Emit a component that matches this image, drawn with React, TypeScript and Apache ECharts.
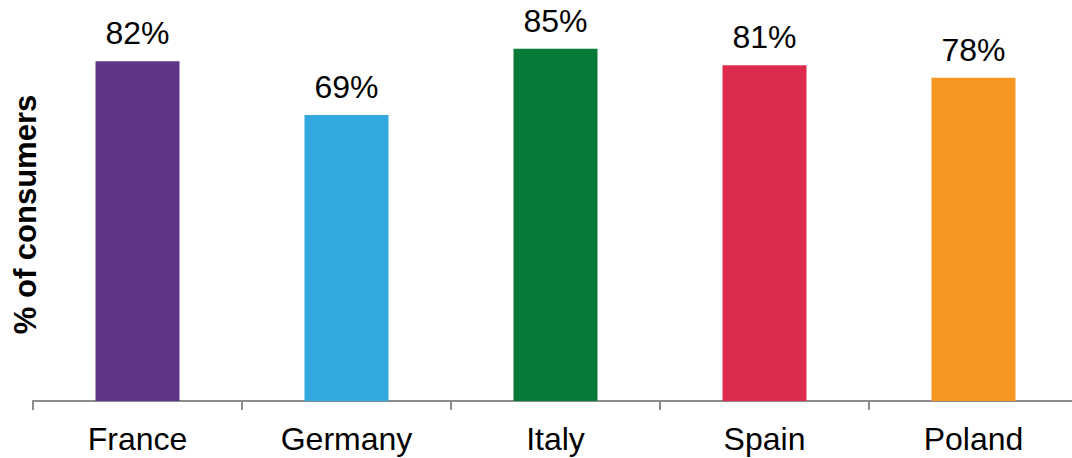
import React, { useEffect, useRef } from "react";
import * as echarts from "echarts";

const countries = ["France", "Germany", "Italy", "Spain", "Poland"];
const shares = [82, 69, 85, 81, 78];
const barColors = ["#5f3589", "#33a8de", "#067a38", "#dd2b4e", "#f79621"];

const font = "Liberation Sans, Arial, sans-serif";

export default function App() {
  const ref = useRef<HTMLDivElement>(null);

  useEffect(() => {
    if (!ref.current) return;
    const chart = echarts.init(ref.current, null, { renderer: "svg" });
    chart.setOption({
      animation: false,
      grid: {
        left: 33,
        right: -6,
        top: 28,
        bottom: 57,
        containLabel: false,
        outerBoundsMode: "none",
      },
      xAxis: {
        type: "category",
        data: countries,
        axisLine: { lineStyle: { color: "#8c8c8c", width: 2 } },
        axisTick: { show: true, length: 9, lineStyle: { color: "#8c8c8c", width: 2 } },
        axisLabel: {
          color: "#000",
          fontFamily: font,
          fontSize: 32,
          margin: 22,
        },
      },
      yAxis: {
        type: "value",
        min: 0,
        max: 90,
        axisLine: { show: false },
        axisTick: { show: false },
        axisLabel: { show: false },
        splitLine: { show: false },
        name: "% of consumers",
        nameLocation: "middle",
        nameGap: -8,
        nameRotate: 90,
        nameTextStyle: {
          color: "#000",
          fontFamily: font,
          fontSize: 31,
          fontWeight: "bold",
        },
      },
      series: [
        {
          type: "bar",
          barWidth: 84,
          data: shares.map((v, i) => ({ value: v, itemStyle: { color: barColors[i] } })),
          label: {
            show: true,
            position: "top",
            distance: 12,
            formatter: "{c}%",
            color: "#000",
            fontFamily: font,
            fontSize: 32,
          },
        },
      ],
    });
    return () => chart.dispose();
  }, []);

  return (
    <div
      ref={ref}
      style={{ position: "absolute", left: 0, top: 0, width: 1072, height: 458, background: "#fff" }}
    />
  );
}
